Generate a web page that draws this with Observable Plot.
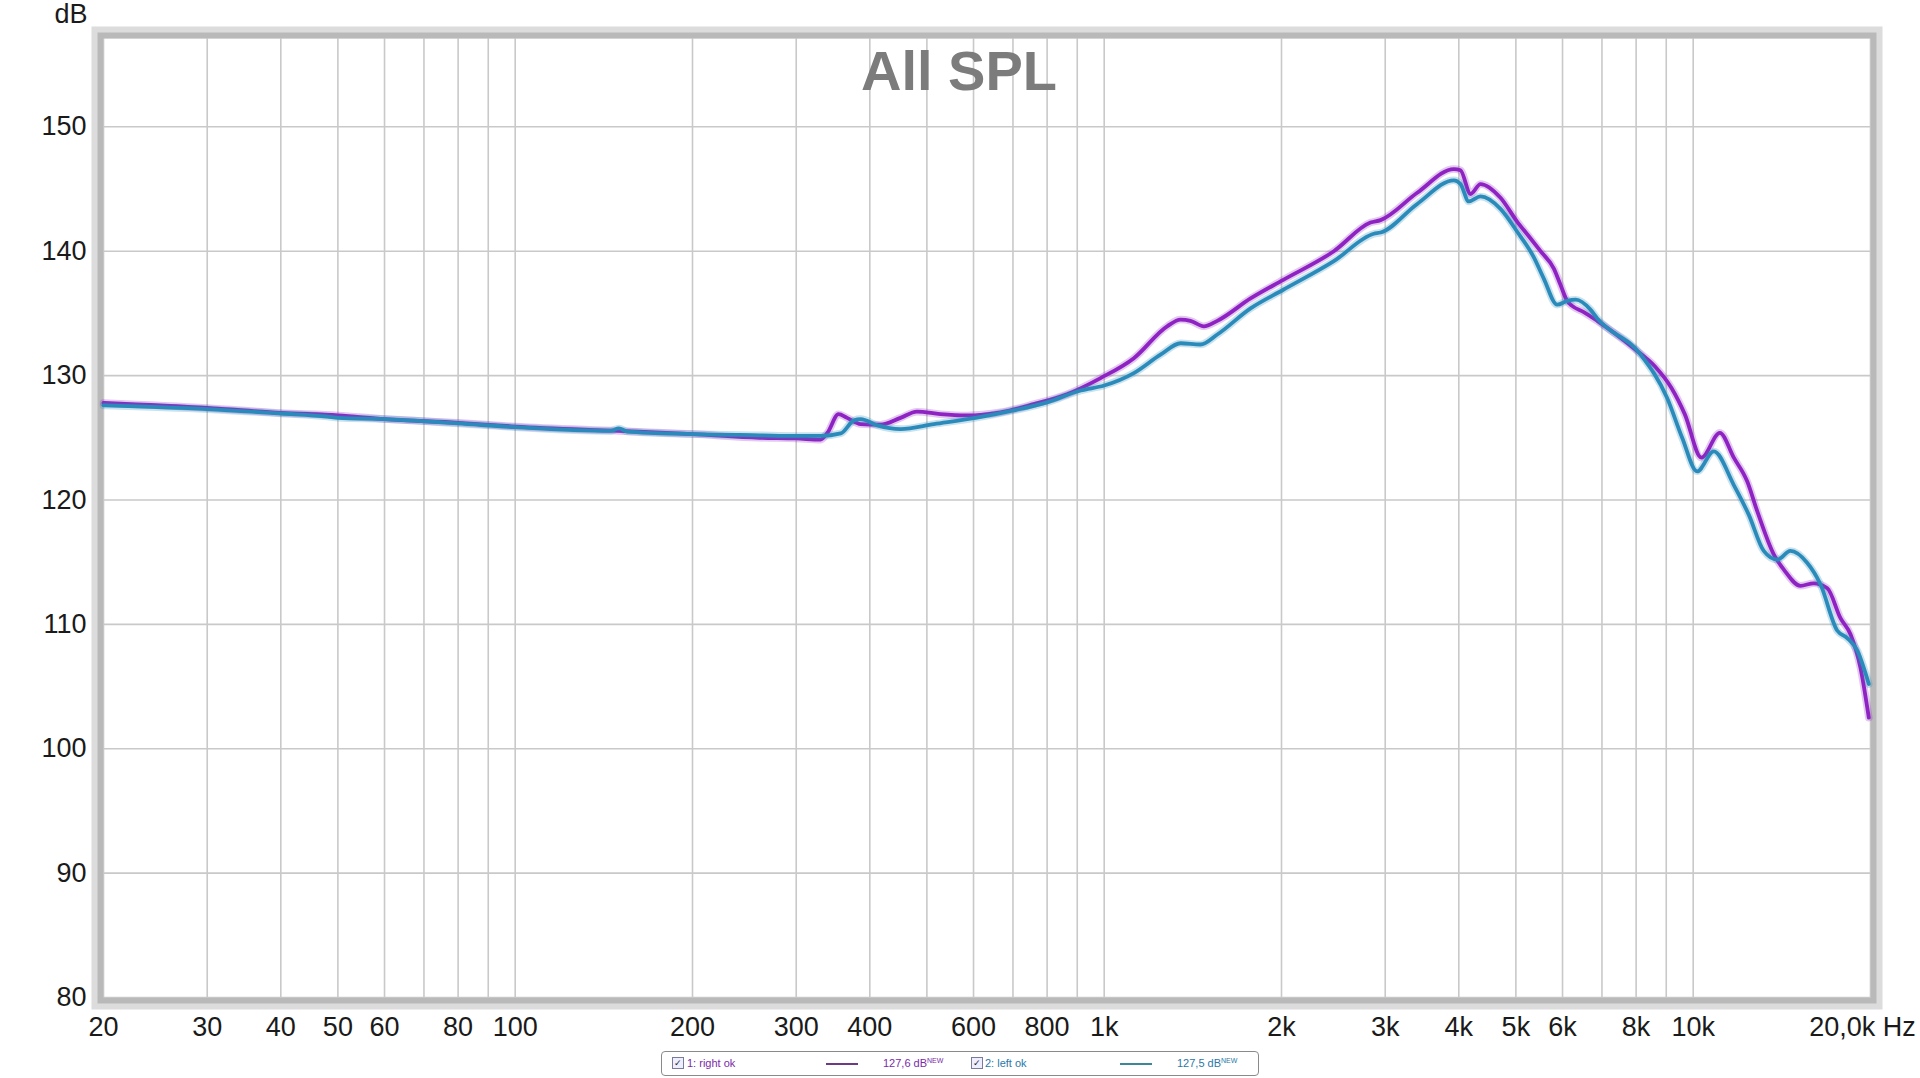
<!DOCTYPE html>
<html>
<head>
<meta charset="utf-8">
<script src="https://cdn.jsdelivr.net/npm/d3@7"></script>
<script src="https://cdn.jsdelivr.net/npm/@observablehq/plot@0.6"></script>
<style>
  html, body { margin: 0; padding: 0; background: #ffffff; }
  #wrap { position: relative; width: 1920px; height: 1078px; overflow: hidden; font-family: "Liberation Sans", Arial, sans-serif; }
  #legend { position: absolute; left: 661px; top: 1051px; width: 596px; height: 23px; border: 1px solid #8a8a8a; border-radius: 4px; background: #fff; font-size: 11px; }
  #legend .it { position: absolute; top: 5px; white-space: nowrap; }
  #legend .cb { position: absolute; top: 5px; width: 10px; height: 10px; border: 1px solid #7a7a9a; background: #eef; font-size: 9px; line-height: 10px; text-align: center; color: #223; }
  #legend .ln { position: absolute; top: 11px; height: 2px; width: 32px; }
  #legend sup { font-size: 7px; vertical-align: 4px; }
</style>
</head>
<body>
<div id="wrap"></div>
<script>
// ---- data ----
const rightFreq = [20,30,40,50,60,80,100,150,200,260,300,330,339,354,366,386,417,451,481,527,585,667,759,865,986,1123,1279,1348,1401,1476,1556,1772,2014,2454,2832,2946,3400,3924,4026,4188,4354,4708,5020,5300,5506,5800,5952,6110,6230,6520,6872,7927,8606,9186,9676,10328,11098,11721,12350,12844,13708,14252,15212,16020,16892,17786,18494,19232,19868];
const rightDb   = [127.8,127.4,127.0,126.8,126.5,126.2,125.9,125.55,125.3,125.0,124.95,124.85,125.4,126.9,126.6,126.1,126.05,126.6,127.1,126.9,126.8,127.05,127.7,128.5,129.8,131.4,133.96,134.5,134.4,133.96,134.4,136.2,137.7,140.0,142.3,142.5,144.7,146.6,146.5,144.6,145.4,144.3,142.4,141.0,140.0,138.6,137.3,136.0,135.6,135.1,134.4,132.2,130.75,129.0,126.9,123.4,125.4,123.4,121.5,119.1,115.6,114.4,113.1,113.3,112.9,110.5,109.2,106.5,102.5];

const leftFreq = [20,30,40,48,50,60,80,100,145,150,155,200,260,300,330,357,376,386,412,451,514,605,702,800,912,1000,1123,1248,1348,1457,1556,1772,2014,2454,2869,2946,3400,3924,4026,4159,4354,4708,5020,5364,5576,5876,6110,6320,6692,6872,8138,9032,9578,10154,10840,11721,12430,13176,13886,14628,15610,16452,17558,18258,18988,19868];
const leftDb   = [127.6,127.3,126.95,126.7,126.6,126.5,126.15,125.85,125.55,125.75,125.5,125.3,125.2,125.15,125.15,125.35,126.4,126.5,126.0,125.7,126.1,126.6,127.2,127.85,128.8,129.2,130.2,131.7,132.6,132.5,133.3,135.4,136.9,139.2,141.4,141.5,143.8,145.7,145.4,144.0,144.4,143.4,141.6,139.5,137.8,135.7,136.0,136.1,135.3,134.6,131.7,128.2,125.0,122.3,123.9,121.2,118.8,115.9,115.2,115.9,114.95,113.2,109.5,108.9,107.9,105.2];

const gridFreq = [20,30,40,50,60,70,80,90,100,200,300,400,500,600,700,800,900,1000,2000,3000,4000,5000,6000,7000,8000,9000,10000,20000];
const gridDb = [80,90,100,110,120,130,140,150];
const xTickValues = [20,30,40,50,60,80,100,200,300,400,600,800,1000,2000,3000,4000,5000,6000,8000,10000];
const xTickLabels = ["20","30","40","50","60","80","100","200","300","400","600","800","1k","2k","3k","4k","5k","6k","8k","10k"];
const endLabel = "20,0k Hz";
const title = "All SPL";
const yUnit = "dB";

const right = rightFreq.map((f, i) => ({f, db: rightDb[i]}));
const left = leftFreq.map((f, i) => ({f, db: leftDb[i]}));
const xTicks = xTickValues.map((f, i) => ({f, label: xTickLabels[i]}));

const purple = "#8e22c2";
const teal = "#2a8bbb";

const chart = Plot.plot({
  width: 1920,
  height: 1045,
  marginLeft: 103,
  marginRight: 50,
  marginTop: 38,
  marginBottom: 48,
  style: {fontFamily: "'Liberation Sans', Arial, sans-serif", background: "#ffffff", overflow: "visible"},
  x: {type: "log", domain: [20, 20000], axis: null},
  y: {domain: [80, 157.1], axis: null},
  marks: [
    Plot.ruleX(gridFreq, {x: d => d, stroke: "#c9c9c9", strokeWidth: 1.6}),
    Plot.ruleY(gridDb, {y: d => d, stroke: "#c9c9c9", strokeWidth: 1.6}),
    Plot.frame({stroke: "#dcdcdc", strokeWidth: 12, inset: -6}),
    Plot.frame({stroke: "#b9b9b9", strokeWidth: 6, inset: -3}),
    Plot.line(right, {x: "f", y: "db", stroke: purple, strokeWidth: 7.5, strokeOpacity: 0.25, curve: "monotone-x"}),
    Plot.line(right, {x: "f", y: "db", stroke: purple, strokeWidth: 3.8, curve: "monotone-x"}),
    Plot.line(left, {x: "f", y: "db", stroke: teal, strokeWidth: 7.5, strokeOpacity: 0.25, curve: "monotone-x"}),
    Plot.line(left, {x: "f", y: "db", stroke: teal, strokeWidth: 3.8, curve: "monotone-x"}),
    Plot.text(gridDb, {x: 20, y: d => d, text: d => String(d), textAnchor: "end", dx: -17, fontSize: 27, fill: "#1a1a1a"}),
    Plot.text(xTicks, {x: "f", y: 80, text: "label", dy: 30, fontSize: 27, fill: "#1a1a1a"}),
    Plot.text([endLabel], {x: 20000, y: 80, text: d => d, dy: 30, dx: -8, fontSize: 27, fill: "#1a1a1a"}),
    Plot.text([yUnit], {frameAnchor: "top-left", text: d => d, textAnchor: "end", dx: -16, dy: -35, fontSize: 27, fill: "#1a1a1a"}),
    Plot.text([title], {frameAnchor: "top", text: d => d, dx: -28, dy: 12, fontSize: 56, fontWeight: "bold", fill: "#7c7c7c"})
  ]
});
const wrap = document.getElementById("wrap");
wrap.appendChild(chart);

const legend = document.createElement("div");
legend.id = "legend";
legend.innerHTML = `
  <div class="cb" style="left:10px">&#10003;</div>
  <div class="it" style="left:25px;color:#7a2aa8">1: right ok</div>
  <div class="ln" style="left:164px;background:#6e3a82"></div>
  <div class="it" style="left:221px;color:#7a2aa8">127,6 dB<sup>NEW</sup></div>
  <div class="cb" style="left:309px">&#10003;</div>
  <div class="it" style="left:323px;color:#2a78a8">2: left ok</div>
  <div class="ln" style="left:458px;background:#3a8898"></div>
  <div class="it" style="left:515px;color:#2a78a8">127,5 dB<sup>NEW</sup></div>`;
wrap.appendChild(legend);
</script>
</body>
</html>
